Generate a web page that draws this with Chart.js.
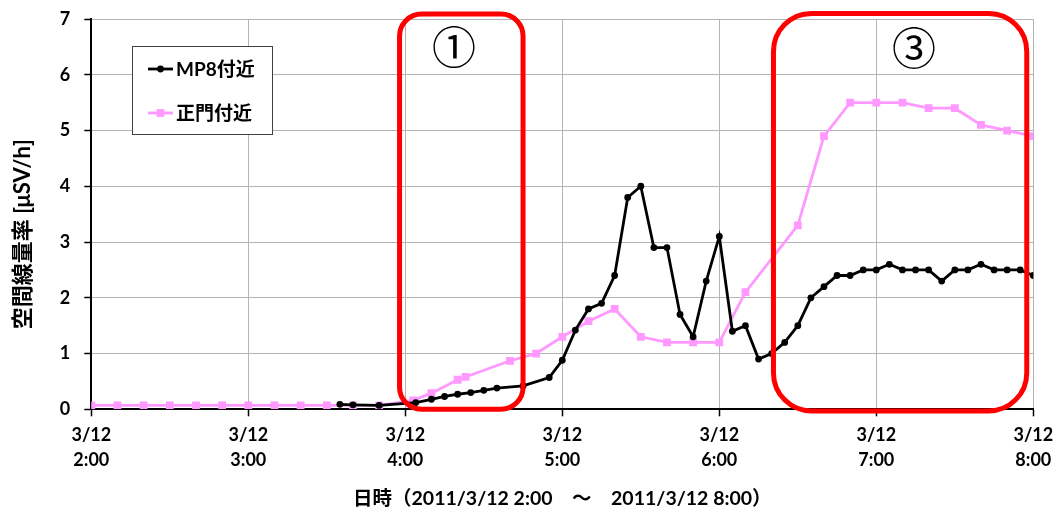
<!DOCTYPE html>
<html>
<head>
<meta charset="utf-8">
<script src="https://cdn.jsdelivr.net/npm/chart.js@4.4.1/dist/chart.umd.min.js"></script>
<style>
  html, body { margin: 0; padding: 0; background: #ffffff; }
  #wrap { width: 1056px; height: 513px; position: relative; }
</style>
</head>
<body>
<div id="wrap"><canvas id="chart"></canvas></div>
<script>
// Air dose rate near Fukushima Daiichi, 2011/3/12 2:00 - 8:00
const seriesNames = ['MP8付近', '正門付近'];

// MP8 monitoring post
const mp8Times = ['3:35','3:40','3:50','4:04','4:10','4:15','4:20','4:25','4:30','4:35','4:45','4:55',
  '5:00','5:05','5:10','5:15','5:20','5:25','5:30','5:35','5:40','5:45','5:50','5:55',
  '6:00','6:05','6:10','6:15','6:20','6:25','6:30','6:35','6:40','6:45','6:50','6:55',
  '7:00','7:05','7:10','7:15','7:20','7:25','7:30','7:35','7:40','7:45','7:50','7:55','8:00'];
const mp8Values = [0.09,0.08,0.07,0.12,0.18,0.23,0.27,0.30,0.34,0.38,0.42,0.57,
  0.88,1.42,1.8,1.9,2.4,3.8,4.0,2.9,2.9,1.7,1.3,2.3,
  3.1,1.4,1.5,0.9,1.0,1.2,1.5,2.0,2.2,2.4,2.4,2.5,
  2.5,2.6,2.5,2.5,2.5,2.3,2.5,2.5,2.6,2.5,2.5,2.5,2.4];

// Main gate
const gateTimes = ['2:00','2:10','2:20','2:30','2:40','2:50','3:00','3:10','3:20','3:30','3:40','3:50',
  '4:03','4:10','4:20','4:23','4:40','4:50','5:00','5:10','5:20','5:30','5:40','5:50','6:00','6:10',
  '6:30','6:40','6:50','7:00','7:10','7:20','7:30','7:40','7:50','8:00'];
const gateValues = [0.07,0.07,0.07,0.07,0.07,0.07,0.07,0.07,0.07,0.07,0.07,0.07,
  0.16,0.29,0.53,0.58,0.87,1.0,1.3,1.58,1.8,1.3,1.2,1.2,1.2,2.1,
  3.3,4.9,5.5,5.5,5.5,5.4,5.4,5.1,5.0,4.9];

// Axis ticks
const xTickLabels = [['3/12','2:00'],['3/12','3:00'],['3/12','4:00'],['3/12','5:00'],['3/12','6:00'],['3/12','7:00'],['3/12','8:00']];
const yTickValues = [0,1,2,3,4,5,6,7];
const xTitle = '日時（2011/3/12 2:00　～　2011/3/12 8:00）';
const yTitle = '空間線量率 [μSV/h]';

// Highlighted periods (time range, value range, caption)
const markLabels = ['①', '③'];
const markFrom = ['3:57.8', '6:20.7'];
const markTo = ['4:45', '7:57.5'];
const markTop = [7.09, 7.1];
const markBottom = [0.0, -0.03];
const markCaptionAt = ['4:18.6', '7:14.4'];
const markCaptionValue = [6.5, 6.48];
const markCorner = [22, 38];

const START_MIN = 2 * 60;
function toMinutes(t) {
  const [h, m] = t.split(':');
  return parseInt(h, 10) * 60 + parseFloat(m) - START_MIN;
}

const FONT = "Lato, 'Noto Sans CJK JP', sans-serif";
const BLACK = '#000000';
const PINK = '#ff99ff';

const mp8Data = mp8Times.map((t, i) => ({ x: toMinutes(t), y: mp8Values[i] }));
const gateData = gateTimes.map((t, i) => ({ x: toMinutes(t), y: gateValues[i] }));

function roundRectPath(ctx, x0, y0, x1, y1, r) {
  ctx.beginPath();
  ctx.moveTo(x0 + r, y0);
  ctx.lineTo(x1 - r, y0);
  ctx.arcTo(x1, y0, x1, y0 + r, r);
  ctx.lineTo(x1, y1 - r);
  ctx.arcTo(x1, y1, x1 - r, y1, r);
  ctx.lineTo(x0 + r, y1);
  ctx.arcTo(x0, y1, x0, y1 - r, r);
  ctx.lineTo(x0, y0 + r);
  ctx.arcTo(x0, y0, x0 + r, y0, r);
  ctx.closePath();
}

// Rotated y-axis title, placed a little below the axis middle
const yTitlePlugin = {
  id: 'yTitle',
  afterDraw(chart) {
    const { ctx, chartArea } = chart;
    ctx.save();
    ctx.translate(chartArea.left - 68.5, (chartArea.top + chartArea.bottom) / 2 + 20);
    ctx.rotate(-Math.PI / 2);
    ctx.font = "bold 22px " + FONT;
    ctx.fillStyle = BLACK;
    ctx.textAlign = 'center';
    ctx.textBaseline = 'middle';
    ctx.fillText(yTitle, 0, 0);
    ctx.restore();
  }
};

// Boxed legend inside the plot area
const legendBoxPlugin = {
  id: 'legendBox',
  afterDraw(chart) {
    const { ctx } = chart;
    const x0 = 132.5, y0 = 46.5, x1 = 272.5, y1 = 134.5;
    ctx.save();
    ctx.fillStyle = '#ffffff';
    ctx.fillRect(x0, y0, x1 - x0, y1 - y0);
    ctx.strokeStyle = '#404040';
    ctx.lineWidth = 1;
    ctx.strokeRect(x0, y0, x1 - x0, y1 - y0);
    const rows = [69, 113];
    chart.data.datasets.forEach((ds, i) => {
      const y = rows[i];
      ctx.strokeStyle = ds.borderColor;
      ctx.lineWidth = ds.borderWidth;
      ctx.beginPath();
      ctx.moveTo(148, y);
      ctx.lineTo(173, y);
      ctx.stroke();
      ctx.fillStyle = ds.pointBackgroundColor;
      if (ds.pointStyle === 'rect') {
        const s = ds.pointRadius * Math.SQRT1_2;
        ctx.fillRect(160.5 - s, y - s, 2 * s, 2 * s);
      } else {
        ctx.beginPath();
        ctx.arc(160.5, y, ds.pointRadius, 0, Math.PI * 2);
        ctx.fill();
      }
      ctx.fillStyle = BLACK;
      ctx.font = "bold 19px " + FONT;
      ctx.textAlign = 'left';
      ctx.textBaseline = 'middle';
      ctx.fillText(ds.label, 176, y + 1);
    });
    ctx.restore();
  }
};

// Red rounded frames marking periods, with circled captions
const markPlugin = {
  id: 'marks',
  afterDraw(chart) {
    const { ctx } = chart;
    const xs = chart.scales.x, ys = chart.scales.y;
    ctx.save();
    markLabels.forEach((lab, i) => {
      const x0 = xs.getPixelForValue(toMinutes(markFrom[i]));
      const x1 = xs.getPixelForValue(toMinutes(markTo[i]));
      const y0 = ys.getPixelForValue(markTop[i]);
      const y1 = ys.getPixelForValue(markBottom[i]);
      ctx.strokeStyle = '#ff0000';
      ctx.lineWidth = 5;
      roundRectPath(ctx, x0, y0, x1, y1, markCorner[i]);
      ctx.stroke();
      ctx.fillStyle = BLACK;
      ctx.font = "44px 'Noto Sans CJK JP', sans-serif";
      ctx.textAlign = 'center';
      ctx.textBaseline = 'middle';
      ctx.fillText(lab, xs.getPixelForValue(toMinutes(markCaptionAt[i])), ys.getPixelForValue(markCaptionValue[i]));
    });
    ctx.restore();
  }
};

const chart = new Chart(document.getElementById('chart'), {
  type: 'line',
  data: {
    datasets: [
      {
        label: seriesNames[0],
        data: mp8Data,
        borderColor: BLACK,
        backgroundColor: BLACK,
        pointBackgroundColor: BLACK,
        pointBorderColor: BLACK,
        pointStyle: 'circle',
        pointRadius: 3.4,
        pointBorderWidth: 0,
        borderWidth: 2.8,
        tension: 0,
        order: 0
      },
      {
        label: seriesNames[1],
        data: gateData,
        borderColor: PINK,
        backgroundColor: PINK,
        pointBackgroundColor: PINK,
        pointBorderColor: PINK,
        pointStyle: 'rect',
        pointRadius: 5.5,
        pointBorderWidth: 0,
        borderWidth: 2.8,
        tension: 0,
        order: 1
      }
    ]
  },
  options: {
    responsive: true,
    maintainAspectRatio: false,
    animation: false,
    events: [],
    devicePixelRatio: 1,
    layout: { padding: { top: 19, right: 22.7, left: 0, bottom: 0 } },
    plugins: {
      legend: { display: false },
      tooltip: { enabled: false }
    },
    scales: {
      x: {
        type: 'linear',
        min: 0,
        max: 360,
        afterFit(scale) {
          scale.height = 103.7;
          scale.paddingLeft = 0;
          scale.paddingRight = 0;
        },
        afterBuildTicks(scale) {
          scale.ticks = xTickLabels.map((_, i) => ({ value: i * 60 }));
        },
        ticks: {
          autoSkip: false,
          maxRotation: 0,
          padding: 7,
          color: BLACK,
          font: { family: FONT, size: 18, weight: 'bold', lineHeight: 1.37 },
          callback: (v) => xTickLabels[Math.round(v / 60)]
        },
        grid: { color: '#b4b4b4', lineWidth: 1, tickColor: BLACK, tickLength: 7, tickWidth: 1.5 },
        border: { color: BLACK, width: 2 },
        title: {
          display: true,
          text: xTitle,
          color: BLACK,
          font: { family: FONT, size: 19.5, weight: 'bold' },
          padding: { top: 0, bottom: 2.5 }
        }
      },
      y: {
        min: 0,
        max: 7,
        afterFit(scale) {
          scale.width = 91.3;
          scale.paddingTop = 0;
          scale.paddingBottom = 0;
        },
        afterBuildTicks(scale) {
          scale.ticks = yTickValues.map(v => ({ value: v }));
        },
        ticks: {
          padding: 14,
          color: BLACK,
          font: { family: FONT, size: 18, weight: 'bold' }
        },
        grid: { color: '#b4b4b4', lineWidth: 1, tickColor: BLACK, tickLength: 7, tickWidth: 1.5 },
        border: { color: BLACK, width: 2 }
      }
    }
  },
  plugins: [yTitlePlugin, markPlugin, legendBoxPlugin]
});
</script>
</body>
</html>
